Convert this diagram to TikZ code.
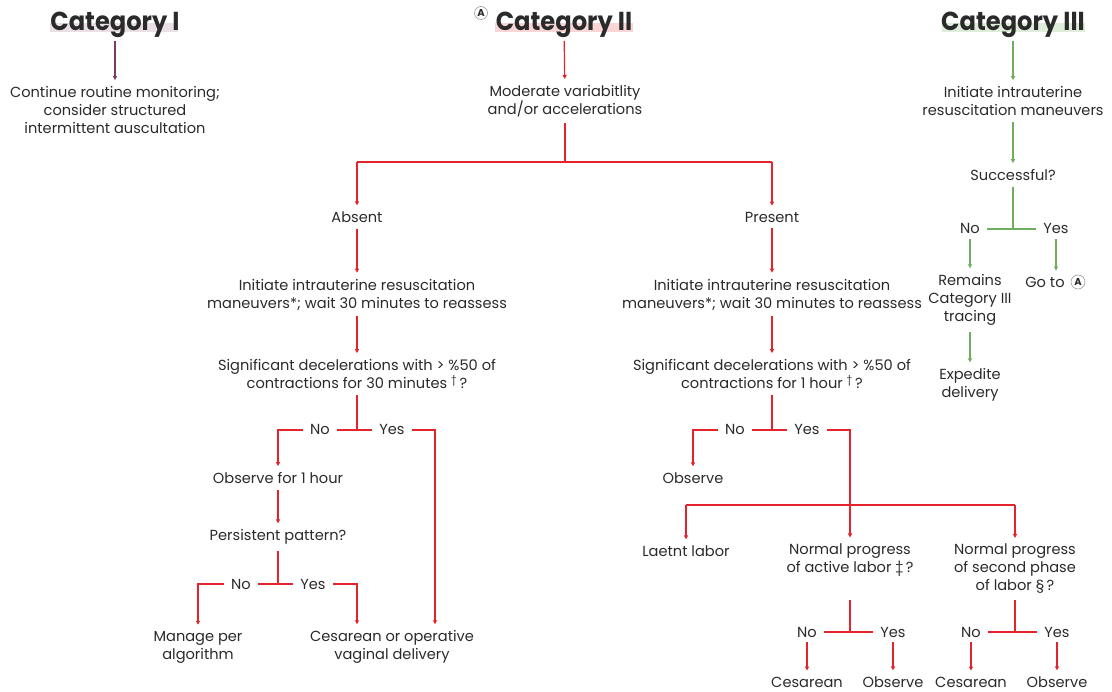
\documentclass[tikz,border=0pt]{standalone}
\usepackage{fontspec}
\setmainfont{Poppins}
\newfontfamily\titlefont{Poppins}[FakeStretch=0.93]
\usetikzlibrary{arrows.meta}
\definecolor{ink}{HTML}{2B2A2A}
\definecolor{catred}{HTML}{E5232B}
\definecolor{catpurple}{HTML}{7A3B68}
\definecolor{catgreen}{HTML}{6FAE5E}
\definecolor{barpurple}{HTML}{EADFE5}
\definecolor{barred}{HTML}{F9D6D6}
\definecolor{bargreen}{HTML}{DEEDDA}
\tikzset{
  txt/.style={align=center, inner xsep=0pt, inner ysep=6pt, text=ink,
    font=\fontsize{14.6}{18}\selectfont},
  lbl/.style={text=ink, inner xsep=7pt, inner ysep=0pt, text height=10pt,
    text depth=0pt, font=\fontsize{14.6}{18}\selectfont},
  title/.style={text=ink, inner sep=3pt, font=\titlefont\fontsize{26}{30}\selectfont\bfseries},
  markA/.style={circle, draw=ink!55, line width=0.5pt, inner sep=0pt,
    minimum size=13pt, text=ink, font=\fontsize{10}{10}\selectfont\bfseries},
  wire/.style={line width=1.2pt},
  link/.style={wire, -{Triangle[length=4pt,width=4pt]}},
}
\begin{document}
\begin{tikzpicture}[x=1pt,y=-1pt]
\useasboundingbox (0,0) rectangle (1112,692);

% ---------- Category I ----------
\fill[barpurple] (50,23) rectangle (178,32);
\node[title] (cat1) at (115,25) {Category I};
\node[txt] (mon) at (115,110) {Continue routine monitoring;\\consider structured\\intermittent auscultation};
\draw[link, catpurple] (cat1) -- (mon);

% ---------- Category II ----------
\fill[barred] (495,23) rectangle (633,32);
\node[title] (cat2) at (564,25) {Category II};
\node[markA] (markTop) at (481,13) {A};
\node[txt] (mod) at (565,101) {Moderate variabitlity\\and/or accelerations};
\draw[link, catred] (cat2) -- (mod);

\begin{scope}[catred]
\coordinate (split) at (565,162);
\node[txt] (absent) at (357,217) {Absent};
\node[txt] (present) at (772,217) {Present};
\draw[wire] (mod) -- (split);
\draw[wire] (absent.north |- split) -- (present.north |- split);
\draw[link] (absent.north |- split) -- (absent);
\draw[link] (present.north |- split) -- (present);

% absent branch
\node[txt] (init1) at (357,294.5) {Initiate intrauterine resuscitation\\maneuvers*; wait 30 minutes to reassess};
\node[txt] (dec1) at (357,374) {Significant decelerations with > \%50 of\\contractions for 30 minutes \textsuperscript{\textdagger}\,?};
\draw[link] (absent) -- (init1);
\draw[link] (init1) -- (dec1);
\coordinate (j1) at (357,430);
\node[lbl] (no1) at (320,430) {No};
\node[lbl] (yes1) at (392,430) {Yes};
\draw[wire] (dec1) -- (j1);
\draw[wire] (no1) -- (yes1);
\node[txt] (obs1) at (278,478) {Observe for 1 hour};
\node[txt] (pers) at (278,537) {Persistent pattern?};
\draw[link] (no1.west) -| (obs1);
\draw[link] (obs1) -- (pers);
\coordinate (j2) at (278,584);
\node[lbl] (no2) at (241,584) {No};
\node[lbl] (yes2) at (313,584) {Yes};
\draw[wire] (pers) -- (j2);
\draw[wire] (no2) -- (yes2);
\node[txt] (man) at (198,647) {Manage per\\algorithm};
\node[txt] (ces1) at (392,647) {Cesarean or operative\\vaginal delivery};
\draw[link] (no2.west) -| (man);
\draw[link] (yes2.east) -| ([xshift=-35pt]ces1.north);
\draw[link] (yes1.east) -| ([xshift=43pt]ces1.north);

% present branch
\node[txt] (init2) at (772,294.5) {Initiate intrauterine resuscitation\\maneuvers*; wait 30 minutes to reassess};
\node[txt] (dec2) at (772,374) {Significant decelerations with > \%50 of\\contractions for 1 hour \textsuperscript{\textdagger}\,?};
\draw[link] (present) -- (init2);
\draw[link] (init2) -- (dec2);
\coordinate (j3) at (772,430);
\node[lbl] (no3) at (735,430) {No};
\node[lbl] (yes3) at (807,430) {Yes};
\draw[wire] (dec2) -- (j3);
\draw[wire] (no3) -- (yes3);
\node[txt] (obs2) at (693,478) {Observe};
\draw[link] (no3.west) -| (obs2);
\coordinate (fork) at (850,505);
\draw[wire] (yes3.east) -| (fork);
\node[txt] (lat) at (686,551) {Laetnt labor};
\node[txt] (act) at (850,560) {Normal progress\\of active labor \textdaggerdbl\,?};
\node[txt] (sec) at (1015,569) {Normal progress\\of second phase\\of labor \S\,?};
\draw[wire] (lat.north |- fork) -- (sec.north |- fork);
\draw[link] (lat.north |- fork) -- (lat);
\draw[link] (fork) -- (act);
\draw[link] (sec.north |- fork) -- (sec);

\coordinate (j4) at (850,632);
\node[lbl] (no4) at (807,632) {No};
\node[lbl] (yes4) at (893,632) {Yes};
\draw[wire] (act |- sec.south) -- (j4);
\draw[wire] (no4) -- (yes4);
\node[txt] (c1) at (807,682) {Cesarean};
\node[txt] (o1) at (893,682) {Observe};
\draw[link, shorten <=5pt] (no4) -- (c1);
\draw[link, shorten <=5pt] (yes4) -- (o1);

\coordinate (j5) at (1015,632);
\node[lbl] (no5) at (971,632) {No};
\node[lbl] (yes5) at (1057,632) {Yes};
\draw[wire] (sec) -- (j5);
\draw[wire] (no5) -- (yes5);
\node[txt] (c2) at (971,682) {Cesarean};
\node[txt] (o2) at (1057,682) {Observe};
\draw[link, shorten <=5pt] (no5) -- (c2);
\draw[link, shorten <=5pt] (yes5) -- (o2);
\end{scope}

% ---------- Category III ----------
\fill[bargreen] (942,23) rectangle (1085,32);
\node[title] (cat3) at (1013,25) {Category III};
\begin{scope}[catgreen]
\node[txt] (init3) at (1013,101) {Initiate intrauterine\\resuscitation maneuvers};
\node[txt] (succ) at (1013,175) {Successful?};
\draw[link] (cat3) -- (init3);
\draw[link] (init3) -- (succ);
\coordinate (j6) at (1013,229);
\node[lbl] (no6) at (970,229) {No};
\node[lbl] (yes6) at (1056,229) {Yes};
\draw[wire] (succ) -- (j6);
\draw[wire] (no6) -- (yes6);
\node[txt] (rem) at (970,300) {Remains\\Category III\\tracing};
\node[txt] (goto) at (1045,282) {Go to};
\node[markA, minimum size=14pt] (markGo) at (1078,282) {A};
\draw[link, shorten <=5pt] (no6) -- (rem);
\draw[link, shorten <=5pt] (yes6) -- (yes6 |- goto.north);
\node[txt] (exp) at (970,385) {Expedite\\delivery};
\draw[link] (rem) -- (exp);
\end{scope}
\end{tikzpicture}
\end{document}
